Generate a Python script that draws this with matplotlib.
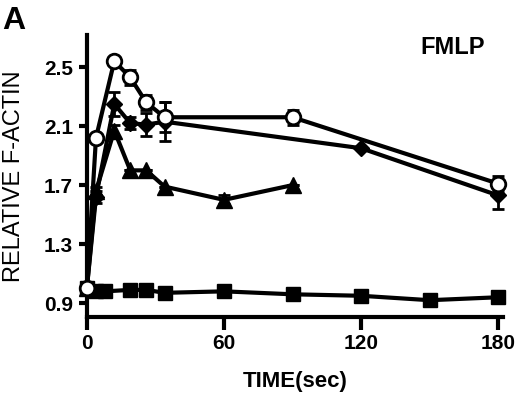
import matplotlib
matplotlib.use('Agg')
import matplotlib.pyplot as plt
import numpy as np

plt.rcParams['font.family'] = ['Liberation Sans', 'DejaVu Sans']

# open circles
t_circ = [0, 4, 12, 19, 26, 34, 90, 180]
y_circ = [1.00, 2.02, 2.54, 2.43, 2.26, 2.16, 2.16, 1.71]
e_circ = [0, 0, 0.02, 0.05, 0.05, 0.10, 0.05, 0.05]

# diamonds
t_diam = [0, 4, 12, 19, 26, 34, 120, 180]
y_diam = [1.00, 1.62, 2.25, 2.12, 2.11, 2.13, 1.95, 1.63]
e_diam = [0, 0.04, 0.08, 0.04, 0.08, 0.13, 0, 0.09]

# triangles
t_tri = [0, 4, 12, 19, 26, 34, 60, 90]
y_tri = [1.00, 1.66, 2.07, 1.80, 1.80, 1.69, 1.60, 1.70]
e_tri = [0, 0.03, 0.04, 0, 0, 0, 0.03, 0]

# squares
t_sq = [0, 4, 8, 19, 26, 34, 60, 90, 120, 150, 180]
y_sq = [1.00, 0.98, 0.98, 0.99, 0.99, 0.97, 0.98, 0.96, 0.95, 0.92, 0.94]

x_ticks = [0, 60, 120, 180]
y_ticks = [0.9, 1.3, 1.7, 2.1, 2.5]

fig = plt.figure(figsize=(5.2, 3.94), dpi=100)
ax = fig.add_axes([0.167, 0.195, 0.800, 0.716])

common = dict(color='black', linewidth=3, ecolor='black', elinewidth=2,
              capsize=4, capthick=2, clip_on=False)
ax.errorbar(t_sq, y_sq, marker='s', markersize=10, zorder=3, **common)
ax.errorbar(t_tri, y_tri, yerr=e_tri, marker='^', markersize=11, zorder=3, **common)
ax.errorbar(t_diam, y_diam, yerr=e_diam, marker='D', markersize=8.5, zorder=4, **common)
ax.errorbar(t_circ, y_circ, yerr=e_circ, marker='o', markersize=10.5,
            markerfacecolor='white', markeredgewidth=2, zorder=5, **common)

ax.set_xlim(0, 182)
ax.set_ylim(0.805, 2.717)
ax.set_xticks(x_ticks)
ax.set_yticks(y_ticks)
ax.set_yticklabels([f'{v:.1f}' for v in y_ticks])
for side in ('top', 'right'):
    ax.spines[side].set_visible(False)
for side in ('left', 'bottom'):
    ax.spines[side].set_linewidth(3)
ax.tick_params(axis='both', width=3, labelsize=15, direction='out')
ax.tick_params(axis='x', length=9, pad=3)
ax.tick_params(axis='y', length=6, pad=4)
for lab in ax.get_xticklabels() + ax.get_yticklabels():
    lab.set_fontweight('bold')

ax.set_xlabel('TIME(sec)', fontsize=16, fontweight='bold')
ax.xaxis.set_label_coords(0.5, -0.19)
ax.set_ylabel('RELATIVE F-ACTIN', fontsize=17)
ax.yaxis.set_label_coords(-0.148, 0.5)

ax.text(0.957, 0.957, 'FMLP', transform=ax.transAxes, fontsize=17,
        fontweight='bold', ha='right', va='center')
fig.text(0.005, 0.985, 'A', fontsize=23, fontweight='bold', ha='left', va='top')

fig.savefig('out.png', dpi=100)
